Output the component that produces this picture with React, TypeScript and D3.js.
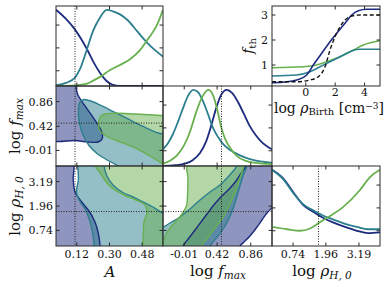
import React from "react";
import * as d3 from "d3";

type Pt = [number, number];

// ---------- parameter ranges, ticks, truths ----------
const rangeA: Pt = [0.005, 0.595];
const rangeF: Pt = [-0.288, 1.138];
const rangeR: Pt = [-0.043, 3.973];
const ticksA = [0.12, 0.3, 0.48];
const ticksF = [-0.01, 0.42, 0.86];
const ticksR = [0.74, 1.96, 3.19];
const tickLabelsA = ["0.12", "0.30", "0.48"];
const tickLabelsF = ["-0.01", "0.42", "0.86"];
const tickLabelsR = ["0.74", "1.96", "3.19"];
const truthA = 0.11;
const truthF = 0.477;
const truthR = 1.685;
const densityRange: Pt = [0, 1.05];
const densityTicks = [0.2, 0.5, 0.8];

const modelColors = ["#1d2b7e", "#2c7f8e", "#68b04f"];

// ---------- 1D marginals [value, normalised density] ----------
const pdfA_navy: Pt[] = [[0.005, 1.0], [0.06, 0.88], [0.11, 0.74], [0.148, 0.6], [0.181, 0.46], [0.215, 0.3], [0.248, 0.17], [0.281, 0.072], [0.314, 0.02], [0.358, 0.0], [0.595, 0.0]];
const pdfA_teal: Pt[] = [[0.005, 0.01], [0.06, 0.04], [0.11, 0.11], [0.137, 0.22], [0.174, 0.47], [0.209, 0.72], [0.248, 0.9], [0.285, 1.0], [0.319, 0.98], [0.358, 0.94], [0.402, 0.86], [0.452, 0.72], [0.507, 0.57], [0.551, 0.47], [0.595, 0.385]];
const pdfA_green: Pt[] = [[0.005, 0], [0.093, 0.005], [0.137, 0.015], [0.176, 0.03], [0.209, 0.07], [0.248, 0.12], [0.303, 0.21], [0.358, 0.276], [0.413, 0.35], [0.468, 0.47], [0.507, 0.6], [0.54, 0.71], [0.567, 0.83], [0.595, 1.0]];

const pdfF_navy: Pt[] = [[-0.288, 0.0], [-0.131, 0.01], [0.0, 0.03], [0.105, 0.08], [0.196, 0.17], [0.275, 0.32], [0.34, 0.52], [0.405, 0.75], [0.471, 0.93], [0.545, 1.0], [0.615, 0.96], [0.693, 0.84], [0.772, 0.68], [0.85, 0.52], [0.929, 0.4], [1.007, 0.31], [1.086, 0.25], [1.138, 0.22]];
const pdfF_teal: Pt[] = [[-0.288, 0.22], [-0.223, 0.3], [-0.157, 0.42], [-0.092, 0.58], [-0.026, 0.76], [0.039, 0.92], [0.108, 1.0], [0.17, 0.97], [0.235, 0.85], [0.301, 0.68], [0.366, 0.5], [0.432, 0.38], [0.497, 0.29], [0.589, 0.21], [0.719, 0.14], [0.85, 0.09], [0.981, 0.06], [1.138, 0.045]];
const pdfF_green: Pt[] = [[-0.288, 0.03], [-0.196, 0.07], [-0.105, 0.14], [-0.013, 0.27], [0.065, 0.45], [0.144, 0.7], [0.222, 0.9], [0.305, 1.0], [0.366, 0.93], [0.419, 0.75], [0.471, 0.52], [0.523, 0.36], [0.589, 0.24], [0.68, 0.13], [0.785, 0.07], [0.916, 0.04], [1.138, 0.025]];

const pdfR_navy: Pt[] = [[-0.043, 1.0], [0.366, 0.89], [0.738, 0.71], [1.11, 0.54], [1.482, 0.45], [1.853, 0.37], [2.225, 0.31], [2.672, 0.25], [3.118, 0.2], [3.527, 0.17], [3.973, 0.18]];
const pdfR_teal: Pt[] = [[-0.043, 1.0], [0.366, 0.88], [0.738, 0.7], [1.11, 0.55], [1.482, 0.47], [1.853, 0.4], [2.225, 0.35], [2.672, 0.29], [3.118, 0.25], [3.527, 0.22], [3.973, 0.22]];
const pdfR_green: Pt[] = [[-0.043, 0.25], [0.515, 0.22], [1.0, 0.2], [1.37, 0.23], [1.668, 0.295], [2.002, 0.37], [2.597, 0.51], [3.229, 0.735], [3.601, 0.905], [3.973, 1.0]];

// ---------- 2D credible regions ----------
// A vs log f_max
const regAF_navy: Pt[] = [[-0.028, 1.245], [0.096, 1.245], [0.126, 0.978], [0.165, 0.782], [0.204, 0.604], [0.237, 0.443], [0.259, 0.301], [0.259, 0.193], [0.237, 0.14], [0.181, 0.14], [0.11, 0.167], [-0.028, 0.193]];
const regAF_teal: Pt[] = [[0.137, 0.853], [0.159, 0.897], [0.204, 0.862], [0.264, 0.773], [0.33, 0.666], [0.402, 0.55], [0.485, 0.417], [0.567, 0.3], [0.634, 0.247], [0.634, -0.395], [0.374, -0.395], [0.347, -0.288], [0.292, -0.19], [0.231, -0.065], [0.187, 0.077], [0.154, 0.265], [0.135, 0.461], [0.129, 0.675]];
const regAF_green: Pt[] = [[0.248, 0.585], [0.27, 0.634], [0.33, 0.651], [0.441, 0.639], [0.595, 0.612], [0.634, 0.612], [0.634, -0.306], [0.578, -0.217], [0.523, -0.11], [0.441, 0.033], [0.347, 0.158], [0.281, 0.247], [0.248, 0.336], [0.239, 0.461]];
// A vs log rho_H,0
const regAR_navy: Pt[] = [[-0.028, 4.274], [0.096, 4.274], [0.1, 3.271], [0.11, 2.668], [0.147, 2.166], [0.187, 1.714], [0.22, 1.162], [0.238, 0.61], [0.248, -0.043], [0.248, -0.344], [-0.028, -0.344]];
const regAR_teal: Pt[] = [[0.137, 4.274], [0.128, 3.271], [0.118, 2.668], [0.132, 2.266], [0.165, 1.815], [0.19, 1.262], [0.206, 0.66], [0.215, -0.043], [0.215, -0.344], [0.634, -0.344], [0.634, 1.563], [0.595, 1.614], [0.54, 1.915], [0.485, 2.166], [0.43, 2.417], [0.369, 2.668], [0.319, 3.019], [0.286, 3.471], [0.27, 3.973], [0.27, 4.274]];
const regAR_green: Pt[] = [[0.209, 4.274], [0.634, 4.274], [0.634, -0.344], [0.496, -0.344], [0.487, 0.66], [0.49, 1.162], [0.507, 1.664], [0.496, 2.015], [0.446, 2.266], [0.38, 2.517], [0.314, 2.869], [0.27, 3.32], [0.237, 3.772], [0.22, 3.973]];
// log f_max vs log rho_H,0
const regFR_navy: Pt[] = [[-0.039, -0.344], [-0.026, -0.043], [0.052, 0.359], [0.131, 0.76], [0.209, 1.162], [0.288, 1.563], [0.366, 1.965], [0.445, 2.316], [0.523, 2.617], [0.602, 2.919], [0.667, 3.22], [0.719, 3.521], [0.772, 3.822], [0.798, 3.973], [0.811, 4.274], [1.243, 4.274], [1.243, 2.015], [1.138, 1.865], [1.073, 1.614], [1.007, 1.262], [0.942, 0.911], [0.85, 0.459], [0.772, 0.158], [0.719, -0.043], [0.693, -0.344]];
const regFR_teal: Pt[] = [[-0.353, 0.76], [-0.288, 0.886], [-0.196, 1.112], [-0.066, 1.413], [0.065, 1.814], [0.196, 2.266], [0.327, 2.668], [0.458, 3.019], [0.562, 3.421], [0.641, 3.772], [0.68, 3.973], [0.693, 4.274], [0.824, 4.274], [0.811, 3.973], [0.759, 3.471], [0.719, 2.969], [0.68, 2.467], [0.641, 1.965], [0.589, 1.463], [0.523, 0.961], [0.432, 0.459], [0.327, -0.043], [0.288, -0.344], [-0.353, -0.344]];
const regFR_green: Pt[] = [[0.046, 4.274], [0.039, 3.27], [0.033, 2.517], [0.019, 1.965], [-0.039, 1.563], [-0.118, 1.212], [-0.196, 0.861], [-0.249, 0.559], [-0.275, 0.258], [-0.353, 0.057], [-0.353, -0.344], [0.196, -0.344], [0.209, -0.043], [0.275, 0.258], [0.353, 0.66], [0.432, 1.061], [0.51, 1.463], [0.576, 1.965], [0.628, 2.417], [0.68, 2.919], [0.719, 3.371], [0.759, 3.822], [0.778, 4.274]];

// ---------- inset: f_th vs log rho_Birth ----------
const insetXRange: Pt = [-2.3, 5.05];
const insetYRange: Pt = [0.16, 3.36];
const insetXTicks = [0, 2, 4];
const insetYTicks = [1, 2, 3];
const inset_navy: Pt[] = [[-2.3, 0.29], [-1.415, 0.32], [-0.619, 0.4], [0.062, 0.6], [0.511, 1.0], [1.083, 1.47], [1.648, 1.93], [2.104, 2.27], [2.669, 2.67], [3.125, 3.0], [3.575, 3.17], [4.147, 3.23], [5.05, 3.23]];
const inset_teal: Pt[] = [[-2.3, 0.56], [-0.62, 0.6], [0.287, 0.73], [0.968, 0.93], [1.648, 1.13], [2.33, 1.33], [3.01, 1.53], [3.575, 1.63], [5.05, 1.63]];
const inset_green: Pt[] = [[-2.3, 0.89], [-0.169, 0.93], [0.743, 1.0], [1.424, 1.13], [2.33, 1.33], [3.234, 1.6], [3.915, 1.8], [5.05, 1.97]];
const inset_true: Pt[] = [[-2.3, 0.33], [-0.62, 0.33], [0.287, 0.4], [0.852, 0.53], [1.308, 0.93], [1.648, 1.6], [1.989, 2.13], [2.33, 2.53], [2.669, 2.8], [3.125, 2.96], [3.69, 3.0], [5.05, 3.0]];

// ---------- layout ----------
const COLS = [56, 163, 272, 380];
const ROWS = [6, 86, 166, 246];
const FONT = "'DejaVu Serif', serif";
const FRAME = "#2a2a2a";
const TL = 3.5;

type Scale = d3.ScaleLinear<number, number>;

function openLine(sx: Scale, sy: Scale) {
  return d3.line<Pt>().x((d) => sx(d[0])).y((d) => sy(d[1])).curve(d3.curveMonotoneX);
}
function closedLine(sx: Scale, sy: Scale) {
  return d3.line<Pt>().x((d) => sx(d[0])).y((d) => sy(d[1])).curve(d3.curveCatmullRomClosed.alpha(0.5));
}

function Panel(props: {
  id: string;
  sx: Scale;
  sy: Scale;
  xTicks: number[];
  yTicks: number[];
  children?: React.ReactNode;
}) {
  const { id, sx, sy, xTicks, yTicks } = props;
  const [x0, x1] = sx.range();
  const [y0, y1] = sy.range(); // y0 bottom, y1 top
  return (
    <g>
      <clipPath id={id}>
        <rect x={x0} y={y1} width={x1 - x0} height={y0 - y1} />
      </clipPath>
      <g clipPath={`url(#${id})`}>{props.children}</g>
      {xTicks.map((t, i) => (
        <g key={"xt" + i} stroke={FRAME} strokeWidth={1}>
          <line x1={sx(t)} x2={sx(t)} y1={y0} y2={y0 - TL} />
          <line x1={sx(t)} x2={sx(t)} y1={y1} y2={y1 + TL} />
        </g>
      ))}
      {yTicks.map((t, i) => (
        <g key={"yt" + i} stroke={FRAME} strokeWidth={1}>
          <line x1={x0} x2={x0 + TL} y1={sy(t)} y2={sy(t)} />
          <line x1={x1} x2={x1 - TL} y1={sy(t)} y2={sy(t)} />
        </g>
      ))}
      <rect x={x0} y={y1} width={x1 - x0} height={y0 - y1} fill="none" stroke={FRAME} strokeWidth={1} />
    </g>
  );
}

function Regions({ sx, sy, regs }: { sx: Scale; sy: Scale; regs: Pt[][] }) {
  const g = closedLine(sx, sy);
  return (
    <g>
      {regs.map((r, i) => (
        <path key={"f" + i} d={g(r) || ""} fill={modelColors[i]} fillOpacity={0.5} stroke="none" />
      ))}
      {regs.map((r, i) => (
        <path key={"s" + i} d={g(r) || ""} fill="none" stroke={modelColors[i]} strokeWidth={1.4} />
      ))}
    </g>
  );
}

function Curves({ sx, sy, curves }: { sx: Scale; sy: Scale; curves: Pt[][] }) {
  const g = openLine(sx, sy);
  return (
    <g>
      {curves.map((c, i) => (
        <path key={i} d={g(c) || ""} fill="none" stroke={modelColors[i]} strokeWidth={1.8} />
      ))}
    </g>
  );
}

function VDot({ x, y0, y1 }: { x: number; y0: number; y1: number }) {
  return <line x1={x} x2={x} y1={y0} y2={y1} stroke="#222" strokeWidth={1} strokeDasharray="1,1.5" />;
}
function HDot({ y, x0, x1 }: { y: number; x0: number; x1: number }) {
  return <line x1={x0} x2={x1} y1={y} y2={y} stroke="#222" strokeWidth={1} strokeDasharray="1,1.5" />;
}

export default function App() {
  const xA = d3.scaleLinear().domain(rangeA).range([COLS[0], COLS[1]]);
  const xF = d3.scaleLinear().domain(rangeF).range([COLS[1], COLS[2]]);
  const xR = d3.scaleLinear().domain(rangeR).range([COLS[2], COLS[3]]);
  const yF = d3.scaleLinear().domain(rangeF).range([ROWS[2], ROWS[1]]);
  const yR = d3.scaleLinear().domain(rangeR).range([ROWS[3], ROWS[2]]);
  const yD1 = d3.scaleLinear().domain(densityRange).range([ROWS[1], ROWS[0]]);
  const yD2 = d3.scaleLinear().domain(densityRange).range([ROWS[2], ROWS[1]]);
  const yD3 = d3.scaleLinear().domain(densityRange).range([ROWS[3], ROWS[2]]);
  const xI = d3.scaleLinear().domain(insetXRange).range([COLS[2], COLS[3]]);
  const yI = d3.scaleLinear().domain(insetYRange).range([ROWS[1], ROWS[0]]);
  const insetLine = openLine(xI, yI);

  const tickFs = 11;
  const labFs = 15;

  return (
    <svg width={386} height={287} style={{ position: "absolute", left: 0, top: 0, background: "#fff" }} fontFamily={FONT}>
      <rect x={0} y={0} width={386} height={287} fill="#fff" />

      {/* Row 1: marginal of A */}
      <Panel id="p11" sx={xA} sy={yD1} xTicks={ticksA} yTicks={densityTicks}>
        <Curves sx={xA} sy={yD1} curves={[pdfA_navy, pdfA_teal, pdfA_green]} />
        <VDot x={xA(truthA)} y0={ROWS[0]} y1={ROWS[1]} />
      </Panel>

      {/* Row 2 */}
      <Panel id="p21" sx={xA} sy={yF} xTicks={ticksA} yTicks={ticksF}>
        <Regions sx={xA} sy={yF} regs={[regAF_navy, regAF_teal, regAF_green]} />
        <VDot x={xA(truthA)} y0={ROWS[1]} y1={ROWS[2]} />
        <HDot y={yF(truthF)} x0={COLS[0]} x1={COLS[1]} />
      </Panel>
      <Panel id="p22" sx={xF} sy={yD2} xTicks={ticksF} yTicks={densityTicks}>
        <Curves sx={xF} sy={yD2} curves={[pdfF_navy, pdfF_teal, pdfF_green]} />
        <VDot x={xF(truthF)} y0={ROWS[1]} y1={ROWS[2]} />
      </Panel>

      {/* Row 3 */}
      <Panel id="p31" sx={xA} sy={yR} xTicks={ticksA} yTicks={ticksR}>
        <Regions sx={xA} sy={yR} regs={[regAR_navy, regAR_teal, regAR_green]} />
        <VDot x={xA(truthA)} y0={ROWS[2]} y1={ROWS[3]} />
        <HDot y={yR(truthR)} x0={COLS[0]} x1={COLS[1]} />
      </Panel>
      <Panel id="p32" sx={xF} sy={yR} xTicks={ticksF} yTicks={ticksR}>
        <Regions sx={xF} sy={yR} regs={[regFR_navy, regFR_teal, regFR_green]} />
        <VDot x={xF(truthF)} y0={ROWS[2]} y1={ROWS[3]} />
        <HDot y={yR(truthR)} x0={COLS[1]} x1={COLS[2]} />
      </Panel>
      <Panel id="p33" sx={xR} sy={yD3} xTicks={ticksR} yTicks={densityTicks}>
        <Curves sx={xR} sy={yD3} curves={[pdfR_navy, pdfR_teal, pdfR_green]} />
        <VDot x={xR(truthR)} y0={ROWS[2]} y1={ROWS[3]} />
      </Panel>

      {/* Inset */}
      <Panel id="pin" sx={xI} sy={yI} xTicks={insetXTicks} yTicks={insetYTicks}>
        <path d={insetLine(inset_green) || ""} fill="none" stroke={modelColors[2]} strokeWidth={1.6} />
        <path d={insetLine(inset_teal) || ""} fill="none" stroke={modelColors[1]} strokeWidth={1.6} />
        <path d={insetLine(inset_navy) || ""} fill="none" stroke={modelColors[0]} strokeWidth={1.6} />
        <path d={insetLine(inset_true) || ""} fill="none" stroke="#111" strokeWidth={1.4} strokeDasharray="4,2.5" />
      </Panel>

      {/* tick labels */}
      <g fontSize={tickFs} fill="#111">
        {ticksF.map((t, i) => (
          <text key={"lf" + i} x={53} y={yF(t) + 4} textAnchor="end">{tickLabelsF[i]}</text>
        ))}
        {ticksR.map((t, i) => (
          <text key={"lr" + i} x={53} y={yR(t) + 4} textAnchor="end">{tickLabelsR[i]}</text>
        ))}
        {ticksA.map((t, i) => (
          <text key={"ba" + i} x={xA(t)} y={258} textAnchor="middle">{tickLabelsA[i]}</text>
        ))}
        {ticksF.map((t, i) => (
          <text key={"bf" + i} x={xF(t)} y={258} textAnchor="middle">{tickLabelsF[i]}</text>
        ))}
        {ticksR.map((t, i) => (
          <text key={"br" + i} x={xR(t)} y={258} textAnchor="middle">{tickLabelsR[i]}</text>
        ))}
        {insetYTicks.map((t, i) => (
          <text key={"iy" + i} x={268} y={yI(t) + 4} textAnchor="end">{String(t)}</text>
        ))}
        {insetXTicks.map((t, i) => (
          <text key={"ix" + i} x={xI(t)} y={96} textAnchor="middle">{String(t)}</text>
        ))}
      </g>

      {/* axis labels */}
      <g fontSize={labFs} fill="#111">
        <text x={110} y={277} textAnchor="middle" fontStyle="italic">A</text>
        <text x={218} y={276} textAnchor="middle">
          log <tspan fontStyle="italic">f</tspan>
          <tspan fontStyle="italic" fontSize={10.5} dy={3}>max</tspan>
        </text>
        <text x={322} y={276} textAnchor="middle">
          log <tspan fontStyle="italic">ρ</tspan>
          <tspan fontStyle="italic" fontSize={10.5} dy={3}>H, 0</tspan>
        </text>
        <text transform={`translate(20,${(ROWS[1] + ROWS[2]) / 2}) rotate(-90)`} textAnchor="middle">
          log <tspan fontStyle="italic">f</tspan>
          <tspan fontStyle="italic" fontSize={10.5} dy={3}>max</tspan>
        </text>
        <text transform={`translate(20,${(ROWS[2] + ROWS[3]) / 2}) rotate(-90)`} textAnchor="middle">
          log <tspan fontStyle="italic">ρ</tspan>
          <tspan fontStyle="italic" fontSize={10.5} dy={3}>H, 0</tspan>
        </text>
      </g>
      <g fontSize={14} fill="#111">
        <text transform={`translate(253,46) rotate(-90)`} textAnchor="middle">
          <tspan fontStyle="italic">f</tspan>
          <tspan fontSize={10} dy={3}>th</tspan>
        </text>
        <text x={329} y={112.5} textAnchor="middle">
          log <tspan fontStyle="italic">ρ</tspan>
          <tspan fontSize={10} dy={2.5}>Birth</tspan>
          <tspan dy={-2.5}> [cm</tspan>
          <tspan fontSize={9} dy={-4}>−3</tspan>
          <tspan dy={4}>]</tspan>
        </text>
      </g>
    </svg>
  );
}
